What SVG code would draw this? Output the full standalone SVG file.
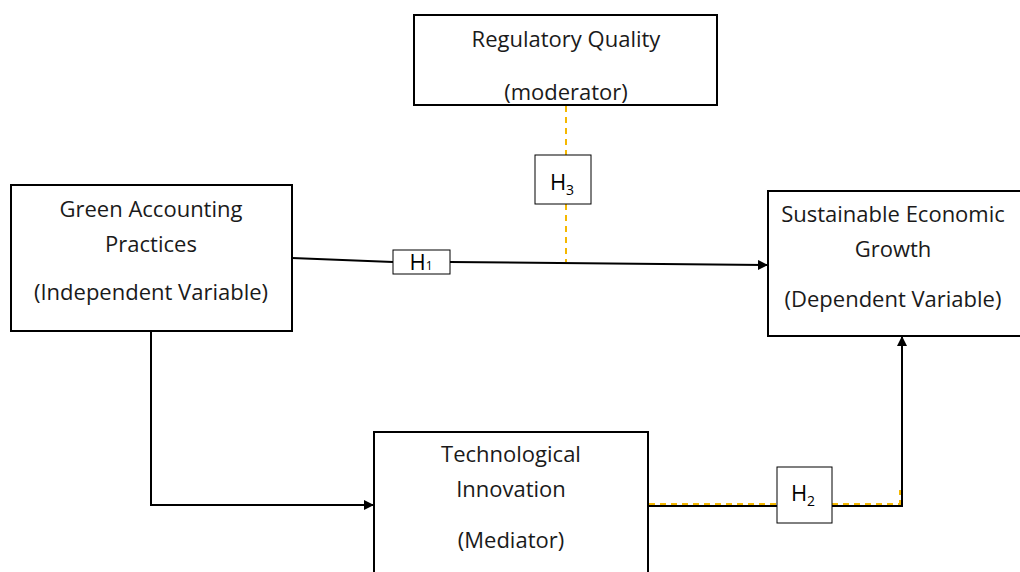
<svg xmlns="http://www.w3.org/2000/svg" width="1020" height="572" viewBox="0 0 1020 572">
<defs>
<style>
.box{fill:#fff;stroke:#000;stroke-width:2}
.hbox{fill:#fff;stroke:#000;stroke-width:1}
.t{font-family:"Open Sans","Liberation Sans",sans-serif;font-size:22px;fill:#1a1a1a;text-anchor:middle}
.h{font-family:"Open Sans","Liberation Sans",sans-serif;font-size:22px;fill:#000;text-anchor:middle}
.ln{fill:none;stroke:#000;stroke-width:2}
.dash{fill:none;stroke:#f5b800;stroke-width:2;stroke-dasharray:6,5}
</style>
<marker id="arr" markerWidth="10" markerHeight="10" refX="9" refY="5" orient="auto" markerUnits="userSpaceOnUse">
<path d="M0,0 L10,5 L0,10 z" fill="#000"/>
</marker>
</defs>
<rect width="1020" height="572" fill="#fff"/>
<g id="connectors">
<path class="dash" d="M566,106 V155"/>
<path class="dash" d="M566,204 V262"/>
<path class="ln" d="M292,258 L393,262"/>
<path class="ln" d="M450,262 L767,265" marker-end="url(#arr)"/>
<path class="ln" d="M151,331 V505 H373" marker-end="url(#arr)"/>
<path class="ln" d="M649,506 H777"/>
<path class="ln" d="M832,506 H902 V337" marker-end="url(#arr)"/>
<path class="dash" d="M649,504 H777"/>
<path class="dash" d="M832,504 H900 V490"/>
</g>
<g id="regulatory">
<rect class="box" x="414" y="15" width="303" height="90"/>
<text class="t" x="566" y="47">Regulatory Quality</text>
<text class="t" x="566" y="100">(moderator)</text>
</g>
<g id="green">
<rect class="box" x="11" y="185" width="281" height="146"/>
<text class="t" x="151" y="217">Green Accounting</text>
<text class="t" x="151" y="252">Practices</text>
<text class="t" x="151" y="300">(Independent Variable)</text>
</g>
<g id="sustainable">
<rect class="box" x="768" y="191" width="260" height="145"/>
<text class="t" x="893" y="222">Sustainable Economic</text>
<text class="t" x="893" y="257">Growth</text>
<text class="t" x="893" y="307">(Dependent Variable)</text>
</g>
<g id="tech">
<rect class="box" x="374" y="432" width="274" height="150"/>
<text class="t" x="511" y="462">Technological</text>
<text class="t" x="511" y="497">Innovation</text>
<text class="t" x="511" y="548">(Mediator)</text>
</g>
<g id="h1">
<rect class="hbox" x="393" y="250" width="57" height="24"/>
<text class="h" x="421" y="270" font-size="19">H<tspan font-size="12">1</tspan></text>
</g>
<g id="h3">
<rect class="hbox" x="535" y="155" width="56" height="49"/>
<text class="h" x="562" y="190">H<tspan font-size="14" dy="5">3</tspan></text>
</g>
<g id="h2">
<rect class="hbox" x="777" y="467" width="55" height="56"/>
<text class="h" x="803" y="501">H<tspan font-size="14" dy="5">2</tspan></text>
</g>
</svg>
